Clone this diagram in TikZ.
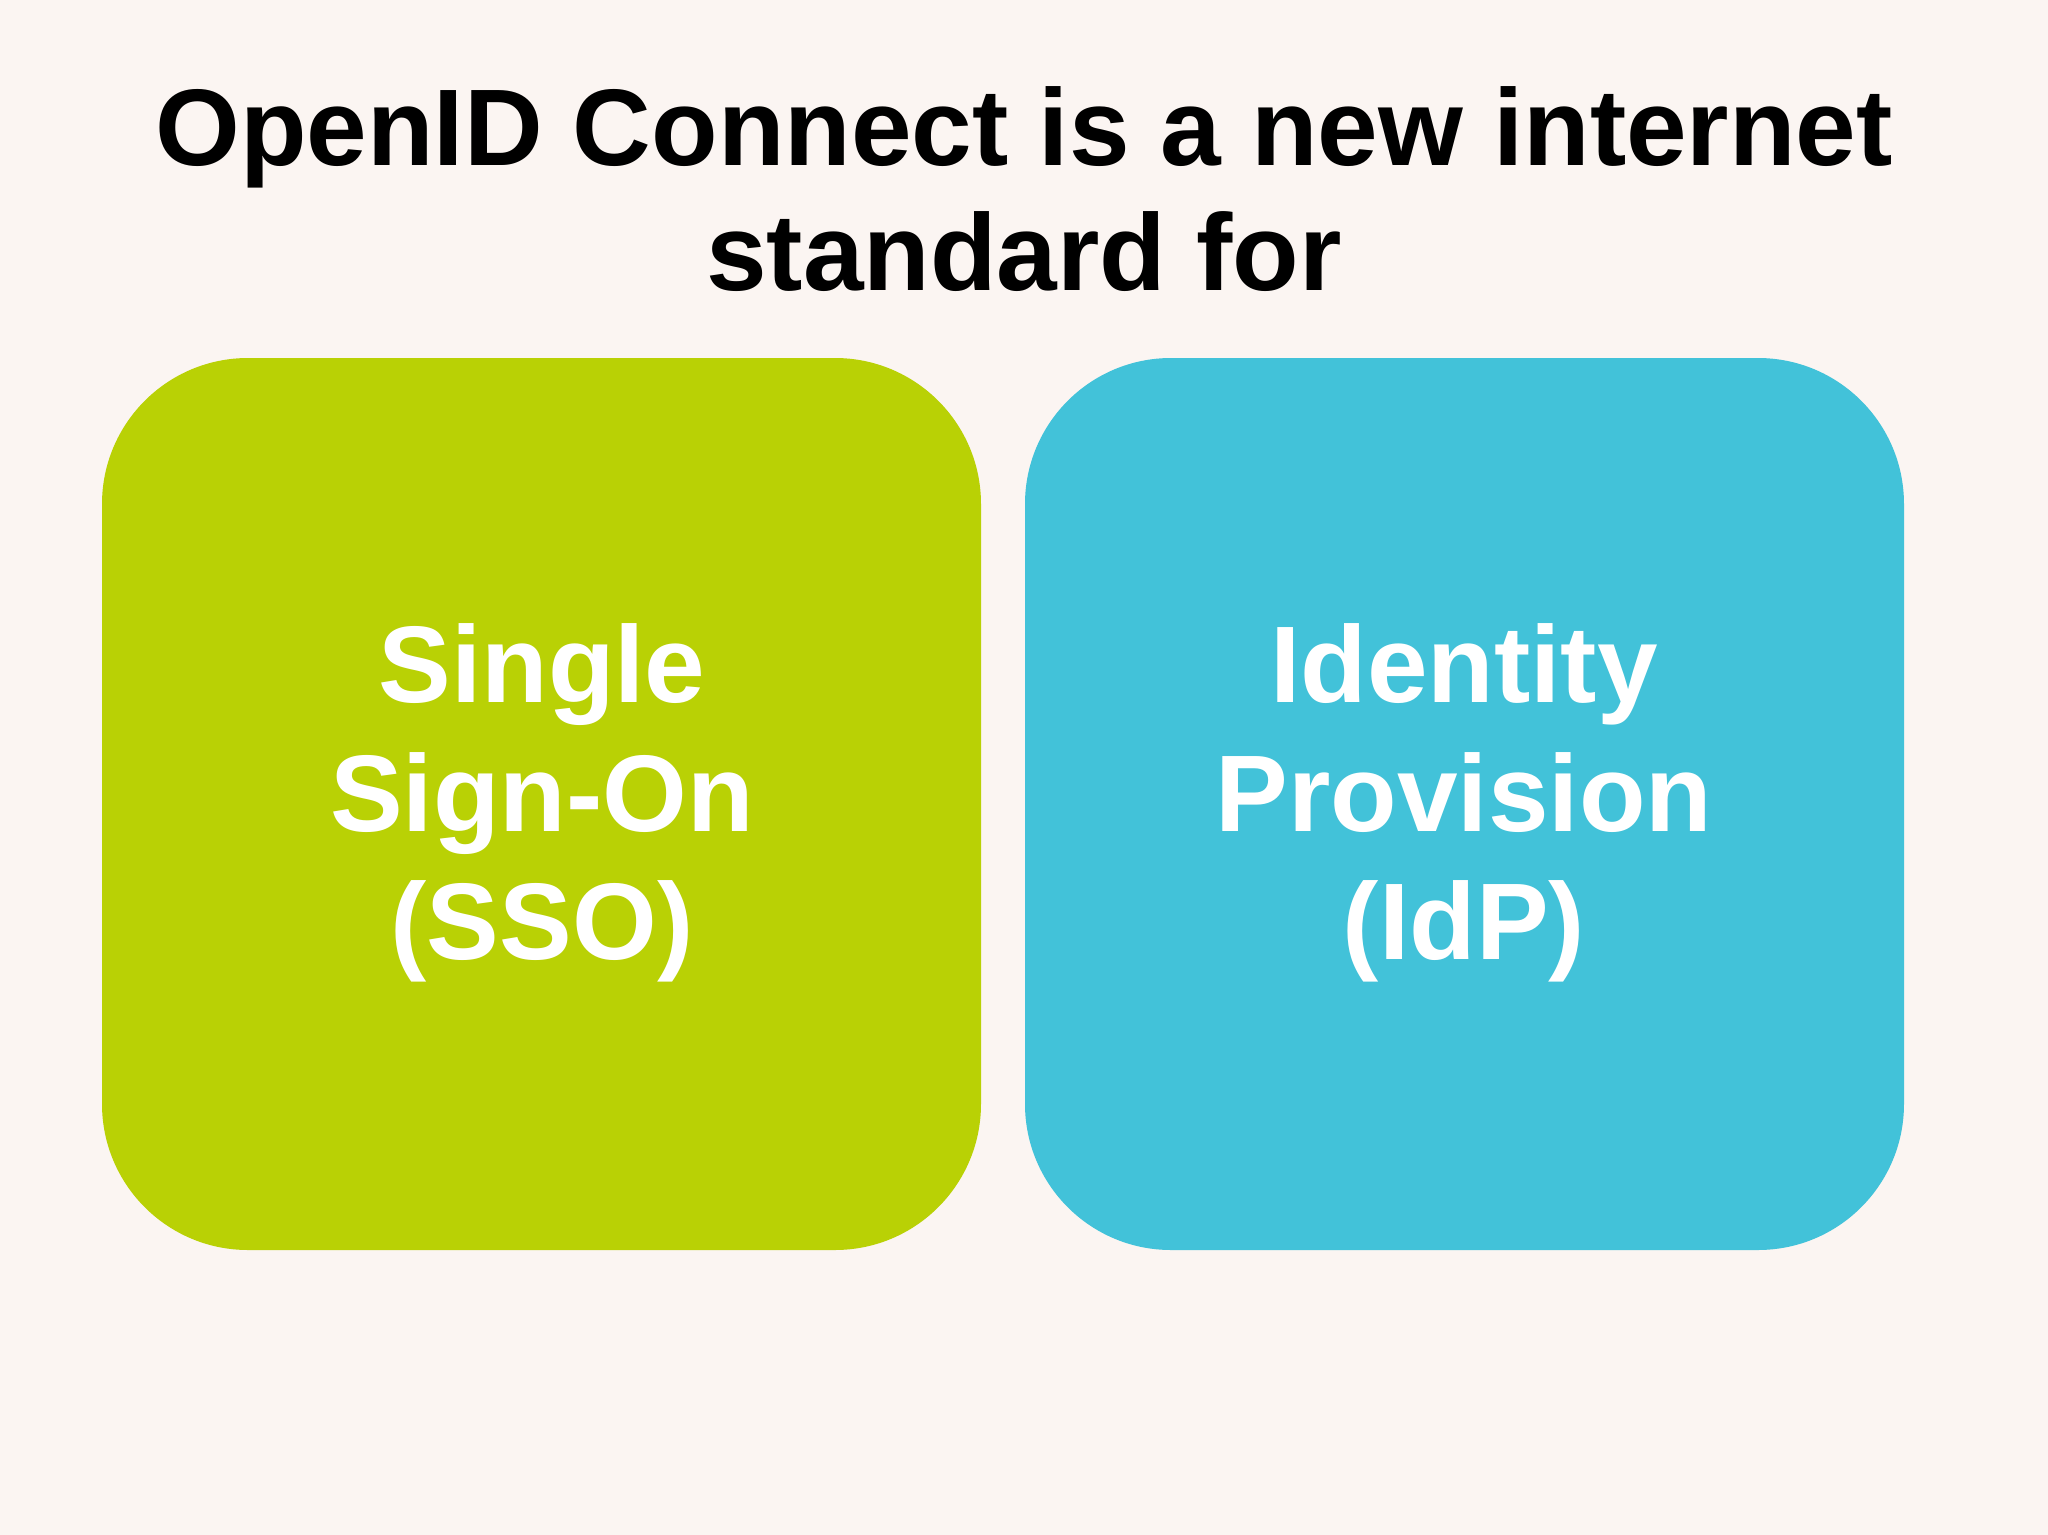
\documentclass[tikz,border=0pt]{standalone}
\usepackage{fontspec}
\setmainfont{Liberation Sans}
\definecolor{bg}{HTML}{FBF5F2}
\definecolor{grn}{HTML}{B9D105}
\definecolor{blu}{HTML}{42C2D9}
\begin{document}
\begin{tikzpicture}[
  card/.style={rounded corners=1.46cm, draw=none},
  cardtext/.style={text=white, font=\bfseries\fontsize{31}{36.5}\selectfont, align=center},
  titletext/.style={text=black, font=\bfseries\fontsize{31}{35.5}\selectfont, align=center}]
\fill[bg] (0,0) rectangle (20.48,-15.35);
\useasboundingbox (0,0) rectangle (20.48,-15.35);
\node[titletext] (title) at (10.24,-1.89) {OpenID Connect is a new internet\\standard for};
\fill[grn, card] (1.02,-3.58) rectangle (9.81,-12.50);
\fill[blu, card] (10.25,-3.58) rectangle (19.04,-12.50);
\node[cardtext] (sso) at (5.42,-8.03) {Single\\Sign-On\\(SSO)};
\node[cardtext] (idp) at (14.64,-8.03) {Identity\\Provision\\(IdP)};
\end{tikzpicture}
\end{document}
